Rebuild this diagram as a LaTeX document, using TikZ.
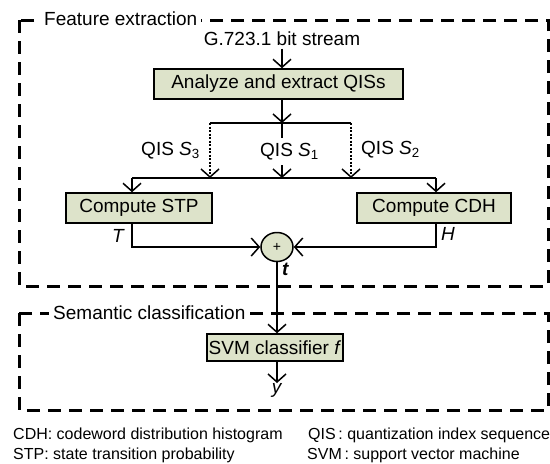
\documentclass[tikz,border=0pt]{standalone}
\usepackage{fontspec}
\setmainfont{Liberation Sans}
\usetikzlibrary{arrows.meta,shapes.geometric}
\definecolor{procfill}{RGB}{221,227,202}

\begin{document}
\begin{tikzpicture}[
			x=1pt, y=-1pt,
			font=\fontsize{19}{22}\selectfont,
			proc/.style = {draw, line width=1.5pt, fill=procfill, minimum height=30pt, inner sep=0pt},
			sum/.style = {draw, ellipse, line width=1.5pt, fill=procfill, minimum width=32pt, minimum height=29pt, inner sep=0pt},
			group/.style = {draw, line width=3pt, dash pattern=on 13pt off 8pt},
			grouplabel/.style = {fill=white, inner sep=4pt, anchor=west},
			lbl/.style = {inner sep=2pt},
			arr/.style = {line width=1.5pt, -{Straight Barb[length=8pt,width=18pt,line width=1.5pt]}},
			link/.style = {line width=1.5pt},
			dots/.style = {line width=2pt, dash pattern=on 2pt off 1.5pt},
			legend/.style = {anchor=base west, inner sep=0pt, font=\fontsize{16}{19}\selectfont},
			]
			\useasboundingbox (0,0) rectangle (550,464);
			% dashed groups
			\draw[group] (19,20) rectangle (548,286);
			\draw[group] (19,313) rectangle (548,410);
			\node[grouplabel] (featlbl) at (40,19) {Feature extraction};
			\node[grouplabel] (semlbl) at (49,313) {Semantic classification};
			% blocks
			\node[anchor=base] (bits) at (282,45) {G.723.1 bit stream};
			\node[proc, minimum width=249pt] (qis) at (278.5,84) {Analyze and extract QISs};
			\node[proc, minimum width=146pt] (stp) at (139,208) {Compute STP};
			\node[proc, minimum width=154pt] (cdh) at (434,208) {Compute CDH};
			\node[sum] (plus) at (277,247) {\fontsize{14}{14}\selectfont +};
			\node[proc, minimum width=136pt, minimum height=27pt] (svm) at (275,347.5) {SVM classifier \textit{f}};
			\coordinate (split) at (282,123);
			\coordinate (split3) at (210,123);
			\coordinate (split2) at (351,123);
			\coordinate (merge) at (282,178);
			\coordinate (mergeL) at (132,178);
			\coordinate (mergeR) at (436,178);
			\coordinate (out) at (277,383);
			% connectors
			\draw[arr] (bits) -- (bits |- qis.north);
			\draw[arr] (qis.south -| split) -- (split);
			\draw[link] (split3) -- (split2);
			\draw[arr, dots] (split3) -- (split3 |- merge);
			\draw[arr, dots] (split2) -- (split2 |- merge);
			\draw[arr] (split) -- (merge);
			\draw[link] (mergeL) -- (mergeR);
			\draw[arr] (mergeL) -- (mergeL |- stp.north);
			\draw[arr] (mergeR) -- (mergeR |- cdh.north);
			\draw[arr] (stp.south -| mergeL) |- (plus.west);
			\draw[arr] (cdh.south -| mergeR) |- (plus.east);
			\draw[arr] (plus.south) -- (plus.south |- svm.north);
			\draw[arr] (svm.south -| out) -- (out);
			% labels
			\node[lbl, anchor=base east] (s3lbl) at (202,155) {QIS \textit{S}\textsubscript{3}};
			\node[lbl, anchor=base west, fill=white, inner ysep=5pt] (s1lbl) at (258,156) {QIS \textit{S}\textsubscript{1}};
			\node[lbl, anchor=base west] (s2lbl) at (359,154) {QIS \textit{S}\textsubscript{2}};
			\node[lbl, anchor=base east] (tlbl) at (127,242) {\textit{T}};
			\node[lbl, anchor=base west] (hlbl) at (439,240) {\textit{H}};
			\node[lbl, anchor=base west] (featvec) at (280,275) {\textbf{\textit{t}}};
			\node[lbl, anchor=base] (ylbl) at (277,393) {\textit{y}};
			% legend
			\node[legend] (cdhkey) at (13,439) {CDH: codeword distribution histogram};
			\node[legend] (stpkey) at (13,459) {STP: state transition probability};
			\node[legend] (qiskey) at (308,439) {QIS\,: quantization index sequence};
			\node[legend] (svmkey) at (307,459) {SVM\,: support vector machine};
		\end{tikzpicture}
\end{document}
